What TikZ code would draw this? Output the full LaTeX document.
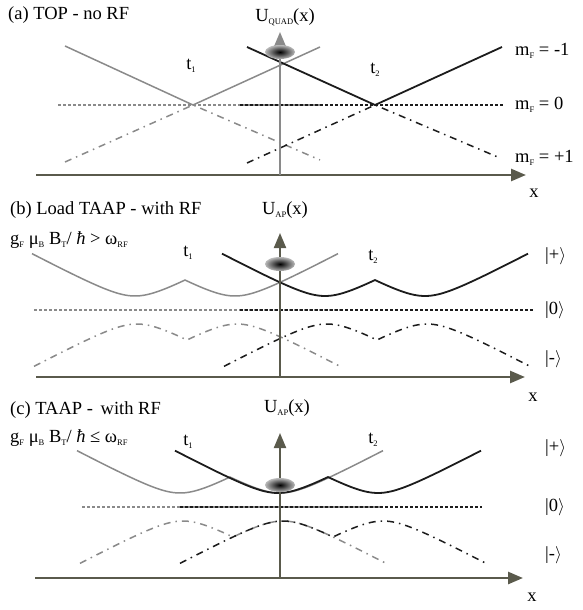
\documentclass[tikz,border=0pt]{standalone}
\usepackage{fontspec}
\setmainfont{Liberation Serif}
\usepackage{tikz}
\usetikzlibrary{arrows.meta}
\usepackage{xcolor}
\definecolor{axisgray}{RGB}{90,90,76}
\definecolor{linegray}{RGB}{138,138,138}
\definecolor{lineblack}{RGB}{28,28,28}
\newcommand{\lo}[1]{\raisebox{-0.35ex}{\fontsize{8.5}{9}\selectfont #1}}
\newcommand{\state}[1]{|#1\ensuremath{\rangle}}
% dressed potential: style, centre, zero line, sign (- upper, + lower)
\newcommand{\dressed}[4]{\draw[#1] plot[domain=-153:153,samples=103] ({#2+\x},{#3#4dres(\x)});}

\begin{document}
\begin{tikzpicture}[x=1pt,y=-1pt,font=\fontsize{18.5}{20}\selectfont,inner sep=0pt,
  axis/.style={draw=axisgray,line width=2.6pt,-{Triangle[length=15pt,width=12pt]}},
  grayline/.style={draw=linegray,line width=1.5pt},
  blackline/.style={draw=lineblack,line width=1.8pt},
  zeroline/.style={dash pattern=on 3pt off 2pt},
  minusline/.style={dash pattern=on 7pt off 5pt on 1.5pt off 5pt},
  declare function={dres(\pos)=sqrt((0.53*abs(\pos)-26.5)*(0.53*abs(\pos)-26.5)+196);}]
\useasboundingbox (0,0) rectangle (582,610);

% (a) TOP
\draw[grayline] (65,46) -- (193,105) -- (320,47);
\draw[grayline,zeroline] (58,105) -- (320,105);
\draw[grayline,minusline] (65,162) -- (193,105) -- (320,160);
\draw[blackline] (247,47) -- (375,105) -- (502,47);
\draw[blackline,line width=1.5pt,zeroline] (240,105) -- (504,105);
\draw[blackline,line width=1.5pt,minusline] (247,163) -- (375,105) -- (500,158);
\coordinate (a0) at (36,175);
\coordinate (ax) at (526,175);
\coordinate (ao) at (280,175);
\coordinate (ay) at (280,32);
\draw[axis] (a0) -- (ax);
\draw[axis,draw=linegray,line width=2pt] (ao) -- (ay);
\shade[inner color=black,outer color=gray!55] (280,52) ellipse (15 and 7);
\node[anchor=west] (ta) at (8,15) {(a) TOP - no RF};
\node (ua) at (285,17) {U\lo{QUAD}(x)};
\node (t1a) at (191,66) {t\lo{1}};
\node (t2a) at (375,70) {t\lo{2}};
\node[anchor=west] (mfm) at (515,51) {m\lo{F} = -1};
\node[anchor=west] (mfz) at (515,105) {m\lo{F} = 0};
\node[anchor=west] (mfp) at (515,158) {m\lo{F} = +1};
\node (xa) at (534,193) {x};

% (b) Load TAAP
\dressed{grayline}{185}{310}{-}
\draw[grayline,zeroline] (34,310) -- (340,310);
\dressed{grayline,minusline}{187}{310}{+}
\dressed{blackline}{375}{310}{-}
\draw[blackline,line width=1.5pt,zeroline] (240,310) -- (533,310);
\dressed{blackline,line width=1.5pt,minusline}{377}{310}{+}
\coordinate (b0) at (36,377);
\coordinate (bx) at (525,377);
\coordinate (bo) at (280,377);
\coordinate (by) at (280,233);
\draw[axis] (b0) -- (bx);
\draw[axis,line width=2pt] (bo) -- (by);
\shade[inner color=black,outer color=gray!55] (280,264) ellipse (15 and 7);
\node[anchor=west] (tb) at (10,210) {(b) Load TAAP - with RF};
\node[anchor=west] (condb) at (10,240) {g\lo{F} μ\lo{B} B\lo{T}/ \textit{ħ} > ω\lo{RF}};
\node (ub) at (285,210) {U\lo{AP}(x)};
\node (t1b) at (188,253) {t\lo{1}};
\node (t2b) at (373,257) {t\lo{2}};
\node[anchor=west] (plusb) at (545,256) {\state{+}};
\node[anchor=west] (zerob) at (545,310) {\state{0}};
\node[anchor=west] (minusb) at (545,359) {\state{-}};
\node (xb) at (533,397) {x};

% (c) TAAP
\dressed{grayline}{230}{507}{-}
\draw[grayline,zeroline] (82,507) -- (383,507);
\dressed{grayline,minusline}{233}{507}{+}
\dressed{blackline}{328}{507}{-}
\draw[blackline,line width=1.5pt,zeroline] (180,507) -- (482,507);
\dressed{blackline,line width=1.5pt,minusline}{333}{507}{+}
\coordinate (c0) at (35,578);
\coordinate (cx) at (523,578);
\coordinate (co) at (280,578);
\coordinate (cy) at (280,433);
\draw[axis] (c0) -- (cx);
\draw[axis,line width=2pt] (co) -- (cy);
\shade[inner color=black,outer color=gray!55] (280,485) ellipse (15 and 7);
\node[anchor=west] (tc) at (10,410) {(c) TAAP -\, with RF};
\node[anchor=west] (condc) at (10,438) {g\lo{F} μ\lo{B} B\lo{T}/ \textit{ħ} ≤ ω\lo{RF}};
\node (uc) at (287,408) {U\lo{AP}(x)};
\node (t1c) at (188,442) {t\lo{1}};
\node (t2c) at (373,440) {t\lo{2}};
\node[anchor=west] (plusc) at (545,448) {\state{+}};
\node[anchor=west] (zeroc) at (545,507) {\state{0}};
\node[anchor=west] (minusc) at (545,555) {\state{-}};
\node (xc) at (532,597) {x};
\end{tikzpicture}
\end{document}
